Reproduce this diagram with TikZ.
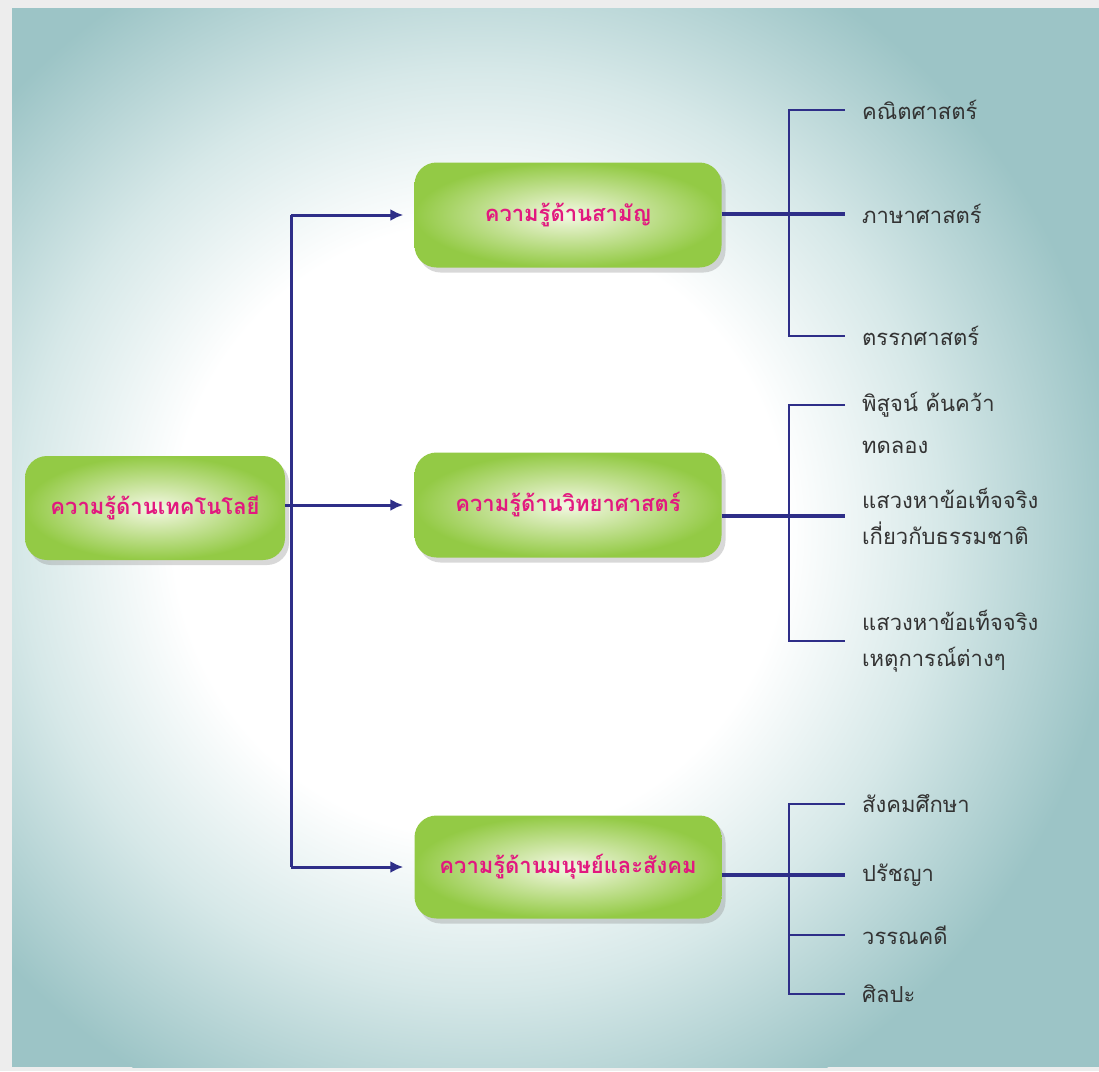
\documentclass[tikz,border=0pt]{standalone}
\usepackage{fontspec}
\newfontfamily\thaifont[Script=Thai]{Loma}
\usepackage{xcolor}
\usetikzlibrary{arrows.meta}
\usetikzlibrary{shadows}
\definecolor{bgteal}{HTML}{9CC4C6}
\definecolor{linkblue}{HTML}{2E2E88}
\definecolor{boxgreen}{HTML}{93CA45}
\definecolor{boxpale}{HTML}{F4F8E4}
\definecolor{titlepink}{HTML}{E2187F}
\definecolor{labelgray}{HTML}{333333}
\pgfdeclareradialshading{glow}{\pgfpoint{0bp}{0bp}}{rgb(0bp)=(1,1,1); rgb(12bp)=(1,1,1); rgb(18bp)=(0.84,0.91,0.91); rgb(25bp)=(0.612,0.769,0.776); rgb(50bp)=(0.612,0.769,0.776)}

\begin{document}
\begin{tikzpicture}[x=1pt,y=-1pt,
    box/.style={rounded corners=22pt, minimum width=307pt, minimum height=105pt,
        shade, inner color=boxpale, outer color=boxgreen,
        drop shadow={shadow xshift=4pt, shadow yshift=-5pt, opacity=.3},
        font=\thaifont\bfseries\fontsize{22}{26}\selectfont, text=titlepink},
    leaf/.style={anchor=west, inner sep=0pt, align=left,
        font=\thaifont\fontsize{22}{36}\selectfont, text=labelgray},
    link/.style={linkblue, line width=2.4pt},
    ]
    \useasboundingbox (0,0) rectangle (1099,1071);

    % background
    \fill[black!7] (0,0) rectangle (1099,1071);
    \fill[bgteal] (12,8) rectangle (1099,1067);
    \begin{scope}
        \clip (12,8) rectangle (1099,1067);
        \shade[shading=glow] (480,530) circle (640);
    \end{scope}

    \node[box, minimum width=260pt, minimum height=104pt] (tech) at (155,508) {ความรู้ด้านเทคโนโลยี};
    \node[box] (gen) at (568,215) {ความรู้ด้านสามัญ};
    \node[box] (sci) at (568,505) {ความรู้ด้านวิทยาศาสตร์};
    \node[box, minimum height=103pt] (hum) at (568,867) {ความรู้ด้านมนุษย์และสังคม};

    \node[leaf] (gen1) at (862,110) {คณิตศาสตร์};
    \node[leaf] (gen2) at (862,214) {ภาษาศาสตร์};
    \node[leaf] (gen3) at (862,336) {ตรรกศาสตร์};

    \node[leaf] (sci1) at (862,405) {พิสูจน์ ค้นคว้า};
    \node[leaf] (sci2) at (862,447) {ทดลอง};
    \node[leaf] (sci3) at (862,516) {แสวงหาข้อเท็จจริง\\เกี่ยวกับธรรมชาติ};
    \node[leaf] (sci4) at (862,641) {แสวงหาข้อเท็จจริง\\เหตุการณ์ต่างๆ};

    \node[leaf] (hum1) at (862,804) {สังคมศึกษา};
    \node[leaf] (hum2) at (862,875) {ปรัชญา};
    \node[leaf] (hum3) at (862,935) {วรรณคดี};
    \node[leaf] (hum4) at (862,994) {ศิลปะ};

    \coordinate (trunk) at (291,0);
    \coordinate (rail) at (789,0);

    % left side
    \draw[link, line width=3pt] (gen.west -| trunk) -- (hum.west -| trunk);
    \draw[link, line width=3pt, -{Latex[length=13pt,width=12pt]}, shorten >=11pt] (gen.west -| trunk) -- (gen.west);
    \draw[link, line width=3pt, -{Latex[length=13pt,width=12pt]}, shorten >=11pt] (tech.east |- sci.west) -- (sci.west);
    \draw[link, line width=3pt, -{Latex[length=13pt,width=12pt]}, shorten >=11pt] (hum.west -| trunk) -- (hum.west);

    % right side
    \draw[link, line width=3.2pt] (gen.east |- gen2.west) -- ([xshift=-17pt]gen2.west);
    \draw[link] ([xshift=-17pt]gen1.west) -- (gen1.west -| rail) -- (gen3.west -| rail) -- ([xshift=-17pt]gen3.west);

    \draw[link, line width=3.2pt] (sci.east |- sci3.west) -- ([xshift=-17pt]sci3.west);
    \draw[link] ([xshift=-17pt]sci1.west) -- (sci1.west -| rail) -- (sci4.west -| rail) -- ([xshift=-17pt]sci4.west);

    \draw[link, line width=3.2pt] (hum.east |- hum2.west) -- ([xshift=-17pt]hum2.west);
    \draw[link] ([xshift=-17pt]hum1.west) -- (hum1.west -| rail) -- (hum4.west -| rail) -- ([xshift=-17pt]hum4.west);
    \draw[link] (hum3.west -| rail) -- ([xshift=-17pt]hum3.west);
\end{tikzpicture}
\end{document}
